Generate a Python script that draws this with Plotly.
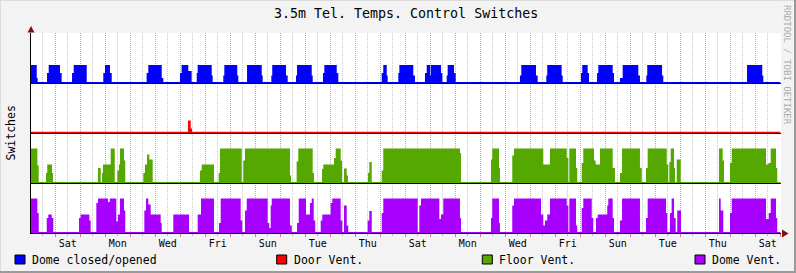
import plotly.graph_objects as go

# ---------------- data ----------------
# time: hours since the left edge of the graph (30 days shown)
T_END = 719.3           # last sample
MIDNIGHT0 = 23.33       # first Saturday 00:00, in hours from graph start

day_labels = ["Sat", "Mon", "Wed", "Fri", "Sun", "Tue", "Thu",
              "Sat", "Mon", "Wed", "Fri", "Sun", "Tue", "Thu", "Sat"]

series_names = ["Dome closed/opened", "Door Vent.", "Floor Vent.", "Dome Vent."]
off_level = [0.02, 0.025, 0.02, 0.02]

# runs: [start_hour, end_hour, averaged switch value]
dome_runs = [
    [0, 5.5, 0.36], [5.5, 6.4, 0.1],
    [15.4, 17.0, 0.2], [17.0, 27.8, 0.36], [27.8, 29.4, 0.2],
    [39.4, 41.0, 0.2], [41.0, 53.5, 0.36],
    [69.4, 71.0, 0.2], [71.0, 75.8, 0.36], [75.8, 77.5, 0.2],
    [111.0, 112.6, 0.2], [112.6, 125.5, 0.36], [125.5, 127.0, 0.1],
    [143.0, 144.6, 0.2], [144.6, 151.0, 0.36], [151.0, 154.2, 0.24],
    [159.1, 160.0, 0.2], [160.0, 173.5, 0.36], [173.5, 174.4, 0.15],
    [184.6, 185.6, 0.15], [185.6, 198.0, 0.36], [198.0, 199.0, 0.15],
    [207.4, 221.5, 0.36], [221.5, 222.4, 0.15],
    [230.7, 231.6, 0.15], [231.6, 244.8, 0.36], [244.8, 246.4, 0.15],
    [254.4, 255.4, 0.15], [255.4, 269.5, 0.36], [269.5, 270.4, 0.15],
    [280.3, 281.6, 0.2], [281.6, 293.5, 0.36], [293.5, 295.0, 0.2],
    [336.7, 338.2, 0.2], [338.2, 341.5, 0.36], [341.5, 342.4, 0.15],
    [352.6, 353.6, 0.2], [353.6, 367.0, 0.36], [367.0, 368.6, 0.15],
    [378.2, 379.9, 0.2], [379.9, 383.2, 0.36], [383.2, 383.9, 0.15],
    [383.9, 393.6, 0.36], [393.6, 394.9, 0.2],
    [399.1, 400.0, 0.15], [400.0, 406.1, 0.36], [406.1, 407.7, 0.2],
    [469.4, 470.7, 0.15], [470.7, 484.8, 0.36], [484.8, 486.4, 0.15],
    [494.7, 495.6, 0.15], [495.6, 509.4, 0.36], [509.4, 510.4, 0.15],
    [528.0, 529.2, 0.2], [529.2, 534.4, 0.36], [534.4, 535.7, 0.2],
    [543.4, 544.6, 0.2], [544.6, 558.4, 0.36], [558.4, 559.7, 0.2],
    [565.4, 568.0, 0.1], [568.0, 583.0, 0.36], [583.0, 584.6, 0.15],
    [590.7, 591.6, 0.15], [591.6, 605.8, 0.36], [605.8, 607.0, 0.15],
    [687.4, 702.0, 0.36], [702.0, 703.0, 0.15],
]

door_runs = [
    [150.7, 153.3, 0.25], [153.3, 154.6, 0.09],
]

floor_runs = [
    [0, 6.1, 0.69], [6.1, 7.4, 0.35],
    [14.4, 15.6, 0.2], [15.6, 20.2, 0.37], [20.2, 21.1, 0.2],
    [64.3, 66.9, 0.3],
    [68.2, 69.1, 0.2], [69.1, 76.5, 0.37], [76.5, 80.4, 0.69],
    [82.9, 84.5, 0.25], [84.5, 85.4, 0.37], [85.4, 89.3, 0.69], [89.3, 90.5, 0.45],
    [107.8, 109.4, 0.2], [109.4, 111.4, 0.37], [111.4, 113.6, 0.57], [113.6, 116.8, 0.47],
    [162.2, 163.9, 0.25], [163.9, 175.7, 0.37],
    [180.2, 181.4, 0.2], [181.4, 202.3, 0.69],
    [203.8, 205.4, 0.45], [205.4, 248.6, 0.69], [248.6, 249.6, 0.15],
    [255.0, 256.6, 0.43], [256.6, 270.4, 0.69], [270.4, 271.7, 0.2],
    [279.4, 280.6, 0.28], [280.6, 290.9, 0.37], [290.9, 292.5, 0.5],
    [292.5, 297.3, 0.69], [297.3, 298.6, 0.45],
    [300.5, 303.1, 0.29], [303.1, 304.3, 0.15],
    [323.5, 324.8, 0.2], [324.8, 327.1, 0.42],
    [336.7, 338.2, 0.25], [338.2, 411.8, 0.69], [411.8, 412.8, 0.6],
    [441.6, 442.8, 0.47], [442.8, 449.3, 0.69], [449.3, 450.2, 0.3],
    [462.0, 463.7, 0.55], [463.7, 491.8, 0.69], [491.8, 498.2, 0.37],
    [498.2, 514.3, 0.69], [514.3, 515.9, 0.5],
    [516.8, 523.2, 0.69], [523.2, 524.4, 0.3],
    [528.7, 530.2, 0.4], [530.2, 540.5, 0.69], [540.5, 542.1, 0.45],
    [542.1, 546.2, 0.37], [546.2, 558.4, 0.69], [558.4, 560.6, 0.3],
    [565.4, 567.4, 0.2], [567.4, 584.6, 0.69], [584.6, 586.3, 0.3],
    [590.4, 592.0, 0.3], [592.0, 610.3, 0.69], [610.3, 611.8, 0.37],
    [612.8, 614.1, 0.42], [614.1, 617.3, 0.69], [617.3, 618.2, 0.3],
    [619.9, 623.7, 0.47],
    [660.5, 664.0, 0.69], [664.0, 665.3, 0.45],
    [671.0, 672.7, 0.4], [672.7, 705.6, 0.69], [705.6, 707.8, 0.37],
    [707.8, 710.1, 0.4], [710.1, 715.2, 0.69], [715.2, 716.4, 0.3],
]

domevent_runs = [
    [0, 6.1, 0.69], [6.1, 7.4, 0.4],
    [15.1, 16.6, 0.3], [16.6, 19.9, 0.37], [19.9, 21.4, 0.3],
    [46.1, 47.7, 0.3], [47.7, 56.0, 0.37], [56.0, 57.3, 0.25],
    [62.7, 64.3, 0.6], [64.3, 73.9, 0.69], [73.9, 75.6, 0.62], [75.6, 81.9, 0.69],
    [81.9, 83.5, 0.23], [83.5, 85.4, 0.37], [85.4, 89.3, 0.69], [89.3, 90.5, 0.45],
    [108.8, 110.4, 0.45], [110.4, 112.6, 0.69], [112.6, 114.9, 0.57],
    [114.9, 124.5, 0.37], [124.5, 125.5, 0.2],
    [136.6, 151.7, 0.37],
    [160.0, 163.2, 0.37], [163.2, 175.7, 0.69],
    [180.5, 182.1, 0.2], [182.1, 201.3, 0.69], [201.3, 202.8, 0.25],
    [205.4, 207.1, 0.45], [207.1, 227.2, 0.69], [227.2, 228.7, 0.2],
    [228.7, 230.1, 0.1], [230.1, 231.1, 0.55], [231.1, 248.6, 0.69], [248.6, 250.3, 0.15],
    [255.4, 257.0, 0.2], [257.0, 264.0, 0.69], [264.0, 267.8, 0.37],
    [267.8, 269.5, 0.6], [269.5, 271.4, 0.69], [271.4, 272.9, 0.25],
    [278.1, 279.6, 0.25], [279.6, 287.7, 0.37], [287.7, 289.2, 0.6],
    [289.2, 297.3, 0.69], [297.3, 298.8, 0.25],
    [300.5, 303.1, 0.55], [303.1, 304.6, 0.15],
    [323.2, 324.8, 0.25], [324.8, 327.1, 0.44],
    [336.7, 338.2, 0.4], [338.2, 371.2, 0.69],
    [372.8, 374.4, 0.55], [374.4, 392.0, 0.69], [392.0, 393.6, 0.28],
    [393.6, 395.8, 0.37], [395.8, 411.8, 0.69], [411.8, 412.8, 0.3],
    [441.6, 442.8, 0.3], [442.8, 449.3, 0.69], [449.3, 450.2, 0.2],
    [462.0, 463.7, 0.55], [463.7, 489.6, 0.69], [489.6, 491.8, 0.37],
    [491.8, 493.4, 0.15], [493.4, 495.6, 0.25], [495.6, 498.2, 0.37],
    [498.2, 514.3, 0.69], [514.3, 515.9, 0.55],
    [516.8, 523.2, 0.69], [523.2, 524.4, 0.15],
    [528.7, 530.2, 0.5], [530.2, 538.3, 0.69], [538.3, 539.8, 0.3],
    [542.4, 544.0, 0.3], [544.0, 553.2, 0.37], [553.2, 554.2, 0.55],
    [554.2, 558.4, 0.69], [558.4, 559.7, 0.3],
    [565.4, 567.4, 0.25], [567.4, 584.6, 0.69],
    [590.4, 592.0, 0.3], [592.0, 609.6, 0.69], [609.6, 610.8, 0.4],
    [613.4, 615.0, 0.4], [615.0, 617.3, 0.69], [617.3, 618.9, 0.3],
    [620.4, 624.0, 0.45],
    [660.5, 662.1, 0.69], [662.1, 664.6, 0.45],
    [671.0, 672.7, 0.4], [672.7, 705.6, 0.69], [705.6, 708.2, 0.28],
    [708.2, 710.1, 0.4], [710.1, 715.2, 0.69], [715.2, 716.4, 0.3],
]

all_runs = [dome_runs, door_runs, floor_runs, domevent_runs]

# ---------------- styling ----------------
colors = ["#0000FF", "#FF0000", "#54A800", "#A800FF"]
offsets = [3, 2, 1, 0]
FONT = "DejaVu Sans Mono"
W, H = 796, 273
L, R, T, B = 31, 15, 33, 40
PW, PH = W - L - R, H - T - B


def px2paper_x(px):
    return (px - L) / PW


def px2paper_y(py):
    return (H - B - py) / PH


def step_xy(runs, base, off):
    xs, ys = [0.0], [base + off]
    for s, e, v in runs:
        xs += [s, e]
        ys += [base + v, base + off]
    xs.append(T_END)
    ys.append(base + off)
    return xs, ys


fig = go.Figure()
for runs, col, base, off in zip(all_runs, colors, offsets, off_level):
    fig.add_trace(go.Scatter(x=[0, T_END], y=[base, base], mode="lines",
                             line=dict(width=0), showlegend=False, hoverinfo="skip"))
    xs, ys = step_xy(runs, base, off)
    fig.add_trace(go.Scatter(x=xs, y=ys, mode="lines", fill="tonexty",
                             fillcolor=col, line=dict(width=0, shape="hv", color=col),
                             showlegend=False, hoverinfo="skip"))

shapes = []
# black baselines for stacked bands
for base in offsets[:-1]:
    shapes.append(dict(type="line", xref="paper", x0=0, x1=1, yref="y",
                       y0=base - 0.01, y1=base - 0.01,
                       line=dict(color="black", width=1), layer="above"))

# axis arrows
ac = "#7F1010"
tx, ty = px2paper_x(31), px2paper_y(26)
shapes.append(dict(type="path", xref="paper", yref="paper",
                   path=f"M {px2paper_x(27.5)},{px2paper_y(32.5)} L {tx},{ty} L {px2paper_x(34.5)},{px2paper_y(32.5)} Z",
                   fillcolor=ac, line=dict(width=0), layer="above"))
shapes.append(dict(type="path", xref="paper", yref="paper",
                   path=f"M {px2paper_x(782)},{px2paper_y(229.5)} L {px2paper_x(788.5)},{px2paper_y(233.5)} L {px2paper_x(782)},{px2paper_y(237.5)} Z",
                   fillcolor=ac, line=dict(width=0), layer="above"))

# 3D frame around the canvas
shapes.append(dict(type="line", xref="paper", yref="paper", x0=px2paper_x(0), x1=px2paper_x(W),
                   y0=px2paper_y(0.5), y1=px2paper_y(0.5), line=dict(color="#DCDCDC", width=1)))
shapes.append(dict(type="line", xref="paper", yref="paper", x0=px2paper_x(0.5), x1=px2paper_x(0.5),
                   y0=px2paper_y(0), y1=px2paper_y(H), line=dict(color="#DCDCDC", width=1)))
shapes.append(dict(type="line", xref="paper", yref="paper", x0=px2paper_x(0), x1=px2paper_x(W),
                   y0=px2paper_y(H - 1), y1=px2paper_y(H - 1), line=dict(color="#9A9A9A", width=2)))
shapes.append(dict(type="line", xref="paper", yref="paper", x0=px2paper_x(W - 1), x1=px2paper_x(W - 1),
                   y0=px2paper_y(0), y1=px2paper_y(H), line=dict(color="#9A9A9A", width=2)))

annotations = []
# legend
legend_box_x = [15, 276.7, 482.3, 695]
for name, col, bx in zip(series_names, colors, legend_box_x):
    shapes.append(dict(type="rect", xref="paper", yref="paper",
                       x0=px2paper_x(bx), x1=px2paper_x(bx + 10),
                       y0=px2paper_y(264), y1=px2paper_y(255),
                       fillcolor=col, line=dict(color="black", width=1)))
    annotations.append(dict(text=name, xref="paper", yref="paper",
                            x=px2paper_x(bx + 15), y=px2paper_y(259.5),
                            xanchor="left", yanchor="middle", showarrow=False,
                            font=dict(family=FONT, size=11.5, color="black")))

# title, y-axis title, watermark
annotations.append(dict(text="3.5m Tel. Temps. Control Switches", xref="paper", yref="paper",
                        x=px2paper_x(405.5), y=px2paper_y(13.5), xanchor="center", yanchor="middle",
                        showarrow=False, font=dict(family=FONT, size=13.3, color="black")))
annotations.append(dict(text="Switches", xref="paper", yref="paper",
                        x=px2paper_x(10.5), y=px2paper_y(133), xanchor="center", yanchor="middle",
                        textangle=-90, showarrow=False, font=dict(family=FONT, size=11.5, color="black")))
annotations.append(dict(text="RRDTOOL / TOBI OETIKER", xref="paper", yref="paper",
                        x=px2paper_x(787), y=px2paper_y(65), xanchor="center", yanchor="middle",
                        textangle=90, showarrow=False, font=dict(family=FONT, size=9, color="#ABABAB")))

label_vals = [MIDNIGHT0 + 12 + 48 * k for k in range(len(day_labels))]

fig.update_layout(
    width=W, height=H, template="none",
    margin=dict(l=L, r=R, t=T, b=B, pad=0),
    paper_bgcolor="#F3F3F3", plot_bgcolor="#FFFFFF",
    showlegend=False,
    # midnight grid (red, dotted)
    xaxis=dict(range=[0, 720], tick0=MIDNIGHT0, dtick=24, showgrid=True,
               gridcolor="#E49A9A", griddash="1px,1px", gridwidth=1,
               ticks="outside", ticklen=3, tickcolor="#D08080", tickwidth=1,
               showticklabels=False, showline=True, linecolor="black", linewidth=1,
               zeroline=False, fixedrange=True),
    # noon grid (grey, dotted)
    xaxis3=dict(range=[0, 720], overlaying="x", matches="x", anchor="y", side="bottom",
                tick0=MIDNIGHT0 + 12, dtick=24, showgrid=True,
                gridcolor="#C8C8C8", griddash="1px,1px", gridwidth=1,
                ticks="outside", ticklen=2, tickcolor="#B8B8B8", tickwidth=1,
                showticklabels=False, showline=False, zeroline=False),
    # day labels
    xaxis2=dict(range=[0, 720], overlaying="x", matches="x", anchor="y", side="bottom",
                tickmode="array", tickvals=label_vals, ticktext=day_labels,
                showgrid=False, ticks="", showline=False, zeroline=False,
                ticklabelstandoff=3,
                tickfont=dict(family=FONT, size=10, color="black")),
    yaxis=dict(range=[0, 4], showgrid=False, zeroline=False, showticklabels=False,
               ticks="", showline=True, linecolor="black", linewidth=1, fixedrange=True),
    shapes=shapes, annotations=annotations,
)
# invisible traces to activate the overlay axes
fig.add_trace(go.Scatter(x=[0, 720], y=[None, None], xaxis="x2", yaxis="y",
                         mode="lines", showlegend=False, hoverinfo="skip"))
fig.add_trace(go.Scatter(x=[0, 720], y=[None, None], xaxis="x3", yaxis="y",
                         mode="lines", showlegend=False, hoverinfo="skip"))

fig.write_html("out.html")
